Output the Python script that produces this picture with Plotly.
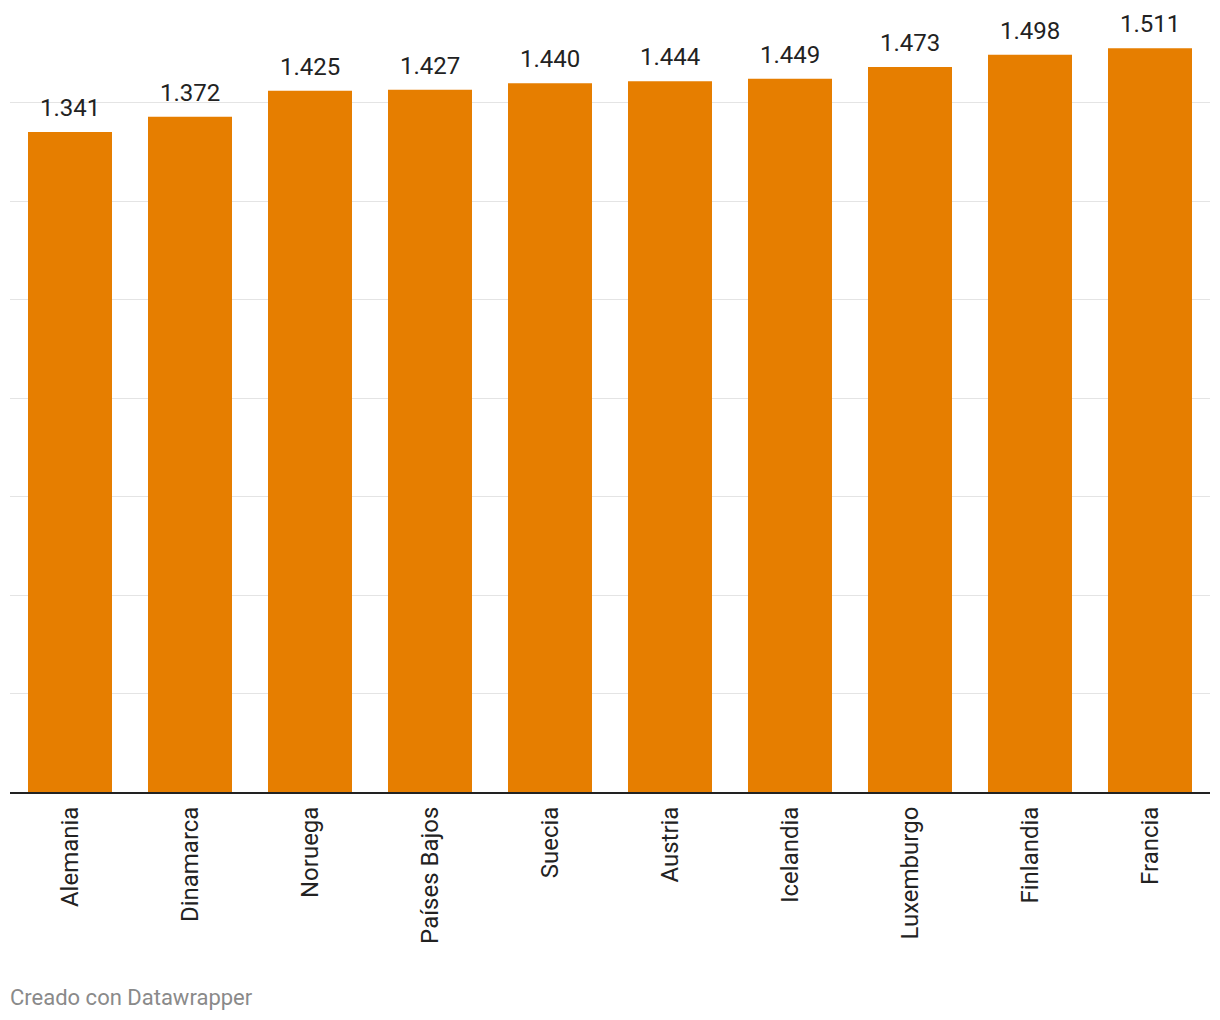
import plotly.graph_objects as go

countries = ["Alemania", "Dinamarca", "Noruega", "Países Bajos", "Suecia",
             "Austria", "Icelandia", "Luxemburgo", "Finlandia", "Francia"]
values = [1341, 1372, 1425, 1427, 1440, 1444, 1449, 1473, 1498, 1511]

fig = go.Figure()
fig.add_trace(go.Bar(
    x=countries, y=values,
    marker=dict(color="#e67e00", line=dict(width=0)),
    hoverinfo="skip",
))

for c, v in zip(countries, values):
    fig.add_annotation(
        x=c, y=v, text=f"{v:,}".replace(",", "."),
        showarrow=False, yanchor="bottom", yshift=8,
        font=dict(family="Roboto", size=24, color="#222222"),
    )

fig.add_annotation(
    xref="paper", yref="paper", x=0, y=0, xanchor="left", yanchor="middle",
    xshift=-2, yshift=-205,
    text="Creado con Datawrapper", showarrow=False,
    font=dict(family="Roboto", size=22, color="#8a8a8a"),
)

fig.update_layout(
    width=1212, height=1012,
    margin=dict(l=2, r=10, t=0, b=228),
    paper_bgcolor="white", plot_bgcolor="white",
    bargap=0.3,
    showlegend=False,
    font=dict(family="Roboto", color="#222222"),
    xaxis=dict(
        tickangle=-90, ticks="outside", ticklen=3, tickcolor="rgba(0,0,0,0)",
        tickfont=dict(family="Roboto", size=24, color="#222222"),
        showline=True, linecolor="#222222", linewidth=2,
        showgrid=False, fixedrange=True,
    ),
    yaxis=dict(
        range=[0, 1593], dtick=200, tick0=0,
        showticklabels=False, showgrid=True, gridcolor="#e4e4e4", gridwidth=1,
        zeroline=False, showline=False, fixedrange=True,
    ),
)

fig.write_html("out.html")
